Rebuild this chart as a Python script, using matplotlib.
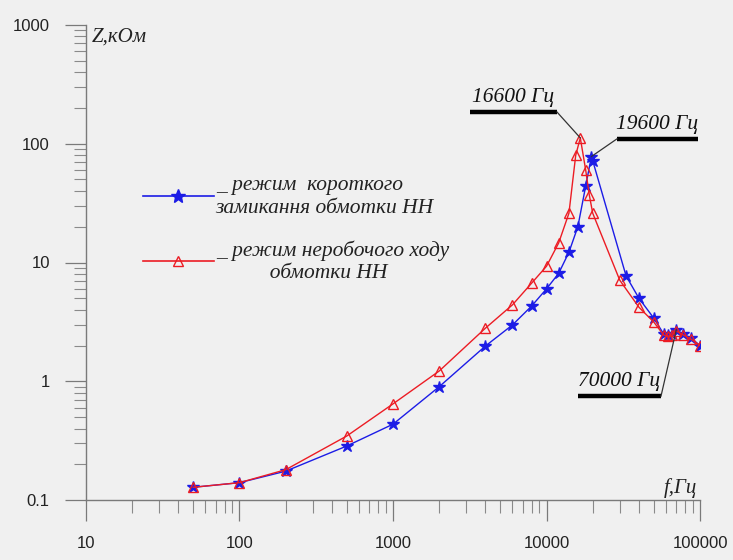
import numpy as np
import matplotlib.pyplot as plt
from matplotlib.lines import Line2D
from matplotlib.ticker import FixedLocator, FixedFormatter, LogLocator, NullFormatter

# ----- data (f in Hz, Z in kOhm)
f_sc = [50, 100, 200, 500, 1000, 2000, 4000, 6000, 8000, 10000, 12000, 14000,
        16000, 18000, 19600, 20000, 33000, 40000, 50000, 58000, 62000, 66000,
        70000, 78000, 88000, 100000]
z_sc = [0.128, 0.14, 0.175, 0.285, 0.435, 0.9, 1.98, 2.98, 4.3, 6.0, 8.1, 12.2,
        20, 44, 78, 72, 7.7, 5.0, 3.4, 2.5, 2.45, 2.5, 2.7, 2.5, 2.3, 2.0]

f_oc = [50, 100, 200, 500, 1000, 2000, 4000, 6000, 8000, 10000, 12000, 14000,
        15500, 16600, 18000, 19000, 20000, 30000, 40000, 50000, 58000, 62000,
        66000, 70000, 78000, 88000, 100000]
z_oc = [0.128, 0.14, 0.18, 0.346, 0.645, 1.22, 2.8, 4.4, 6.7, 9.3, 14.6, 26,
        80, 112, 60, 37, 26, 7.1, 4.2, 3.15, 2.45, 2.4, 2.45, 2.65, 2.45, 2.25, 2.0]

x_ticks = [10, 100, 1000, 10000, 100000]
x_labels = ["10", "100", "1000", "10000", "100000"]
y_ticks = [0.1, 1, 10, 100, 1000]
y_labels = ["0.1", "1", "10", "100", "1000"]

label_sc = "_ режим  короткого\nзамикання обмотки НН"
label_oc = "_ режим неробочого ходу\n          обмотки НН"

# callouts: text, point (f, Z), underline start/end f, underline Z, which end the leader uses
callouts = [
    ("16600 Гц", (16600, 112), (3160, 11700), 185, 1),
    ("19600 Гц", (19600, 78), (28800, 97000), 110, 0),
    ("70000 Гц", (70000, 2.7), (16000, 55700), 0.75, 1),
]

blue = "#1c1ce6"
red = "#ec1c24"
bg = "#f0f0f0"
serif = ["Liberation Serif", "DejaVu Serif"]

plt.rcParams['font.family'] = ["Liberation Sans", "DejaVu Sans"]

fig = plt.figure(figsize=(7.33, 5.6), dpi=100, facecolor=bg)
ax = fig.add_axes([0.1173, 0.1071, 0.8377, 0.8483], facecolor=bg)

ax.plot(f_sc, z_sc, color=blue, lw=1.0, marker='*', ms=9, mfc=blue, mec=blue, zorder=3)
ax.plot(f_oc, z_oc, color=red, lw=1.0, marker='^', ms=6.5, mfc='none', mec=red, mew=1.0, zorder=3)

ax.set_xscale('log')
ax.set_yscale('log')
ax.set_xlim(10, 100000)
ax.set_ylim(0.1, 1000)

ax.xaxis.set_major_locator(FixedLocator(x_ticks))
ax.xaxis.set_major_formatter(FixedFormatter(x_labels))
ax.yaxis.set_major_locator(FixedLocator(y_ticks))
ax.yaxis.set_major_formatter(FixedFormatter(y_labels))
ax.xaxis.set_minor_locator(LogLocator(base=10, subs=np.arange(2, 10)))
ax.yaxis.set_minor_locator(LogLocator(base=10, subs=np.arange(2, 10)))
ax.xaxis.set_minor_formatter(NullFormatter())
ax.yaxis.set_minor_formatter(NullFormatter())

for s in ['top', 'right']:
    ax.spines[s].set_visible(False)
for s in ['left', 'bottom']:
    ax.spines[s].set_color('#7a7a7a')
    ax.spines[s].set_linewidth(1.0)

ax.tick_params(which='major', length=15, width=0.9, color='#7a7a7a',
               labelsize=12, labelcolor='#222222', pad=11)
ax.tick_params(which='minor', length=9, width=0.8, color='#8a8a8a')

# axis captions
ax.text(0.01, 0.975, "Z,кОм", transform=ax.transAxes, family=serif,
        style='italic', fontsize=15, ha='left', va='center', color='#222222')
ax.text(0.995, 0.005, "f,Гц", transform=ax.transAxes, family=serif,
        style='italic', fontsize=15, ha='right', va='bottom', color='#222222')

# callouts with a thick underline and a thin leader
for txt, (fp, zp), (u0, u1), uz, end in callouts:
    ax.plot([u0, u1], [uz, uz], color='black', lw=3.2, solid_capstyle='butt', zorder=4)
    ue = (u0, u1)[end]
    ax.plot([ue, fp], [uz, zp], color='#333333', lw=0.9, zorder=4)
    ax.text(np.sqrt(u0 * u1), uz * 1.1, txt, family=serif, style='italic',
            fontsize=15.5, ha='center', va='bottom', color='#111111')

handles = [
    Line2D([], [], color=blue, lw=1.2, marker='*', ms=10, mfc=blue, mec=blue),
    Line2D([], [], color=red, lw=1.2, marker='^', ms=7.5, mfc='none', mec=red),
]
leg = fig.legend(handles, [label_sc, label_oc], loc='upper left',
                 bbox_to_anchor=(0.168, 0.72), frameon=False, handlelength=3.3,
                 handletextpad=0.1, labelspacing=1.05,
                 prop={'family': serif, 'style': 'italic', 'size': 15.5})
for t in leg.get_texts():
    t.set_color('#222222')
    t.set_linespacing(1.25)

fig.savefig("out.png", dpi=100, facecolor=bg)
